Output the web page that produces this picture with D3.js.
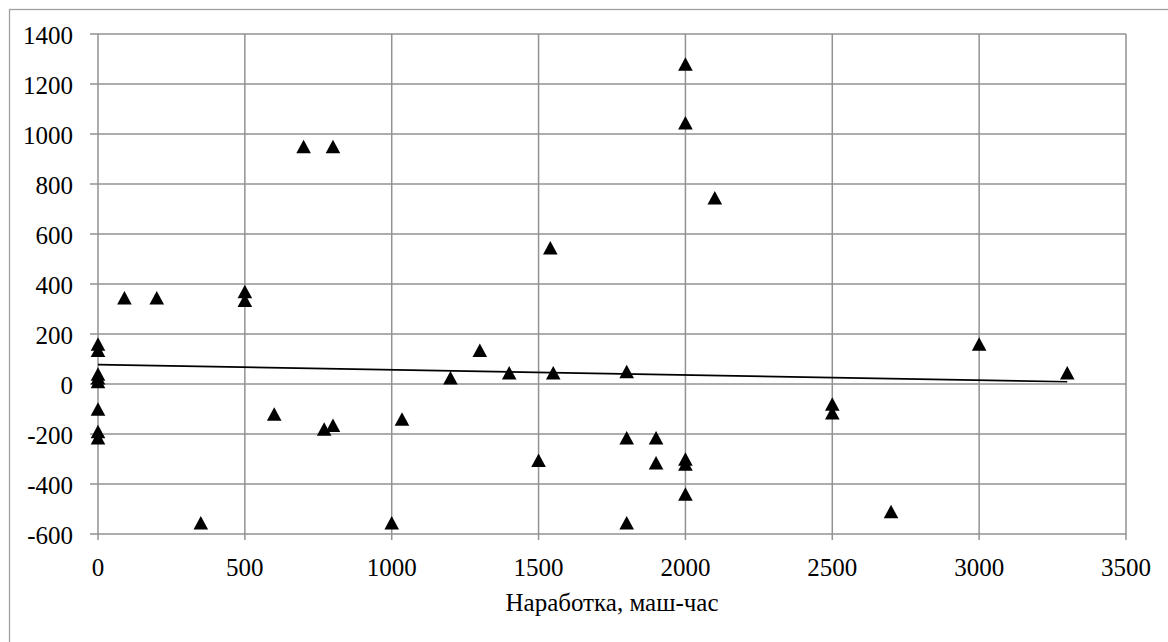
<!DOCTYPE html>
<html>
<head><meta charset="utf-8"><script src="https://cdn.jsdelivr.net/npm/d3@7"></script></head>
<body style="margin:0">
<script>
// размеры
let width = 1168;
let height = 642;
let font_stack = "'Liberation Serif', Tinos, 'Times New Roman', serif";

// данные: наработка (x) и отклонение (y)
let run_hours = [0, 0, 0, 0, 0, 0, 0, 0, 90, 200, 350, 500, 500, 600, 700, 770, 800, 800,
    1000, 1035, 1200, 1300, 1400, 1500, 1540, 1550, 1800, 1800, 1800, 1900, 1900,
    2000, 2000, 2000, 2000, 2000, 2100, 2500, 2500, 2700, 3000, 3300];
let deviation = [160, 135, 40, 25, 10, -100, -190, -215, 345, 345, -555, 370, 335, -120, 950, -180, 950, -165,
    -555, -140, 25, 135, 45, -305, 545, 45, 50, -215, -555, -215, -315,
    1280, 1045, -300, -320, -440, 745, -80, -115, -510, 160, 45];

// подписи осей
let x_ticks = [0, 500, 1000, 1500, 2000, 2500, 3000, 3500];
let y_ticks = [-600, -400, -200, 0, 200, 400, 600, 800, 1000, 1200, 1400];
let x_title = "Наработка, маш-час";

// область построения
let plot_left = 98, plot_right = 1126, plot_top = 34, plot_bottom = 534;
let grid_color = "#929292";

let svg = d3.select("body").append("svg")
    .attr("width", width)
    .attr("height", height)
    .attr("font-family", font_stack);

// рамка диаграммы
svg.append("rect")
    .attr("x", 9.5).attr("y", 9.5)
    .attr("width", width).attr("height", height)
    .style("fill", "none")
    .style("stroke", "#a0a0a0")
    .style("stroke-width", 1.3);

let x = d3.scaleLinear().domain([0, 3500]).range([plot_left, plot_right]);
let y = d3.scaleLinear().domain([-600, 1400]).range([plot_bottom, plot_top]);

// сетка
svg.append("g").selectAll("line").data(y_ticks).enter().append("line")
    .attr("x1", plot_left - 8).attr("x2", plot_right)
    .attr("y1", d => y(d)).attr("y2", d => y(d))
    .style("stroke", grid_color).style("stroke-width", 1.5);

svg.append("g").selectAll("line").data(x_ticks).enter().append("line")
    .attr("x1", d => x(d)).attr("x2", d => x(d))
    .attr("y1", plot_top).attr("y2", plot_bottom + 6)
    .style("stroke", grid_color).style("stroke-width", 1.5);

// подписи Y
svg.append("g").selectAll("text").data(y_ticks).enter().append("text")
    .attr("x", 73)
    .attr("y", d => y(d) + 10)
    .attr("text-anchor", "end")
    .attr("font-family", font_stack)
    .style("font-family", font_stack, "important")
    .style("font-size", "25px")
    .text(d => String(d));

// подписи X
svg.append("g").selectAll("text").data(x_ticks).enter().append("text")
    .attr("x", d => x(d))
    .attr("y", 576)
    .attr("text-anchor", "middle")
    .attr("font-family", font_stack)
    .style("font-family", font_stack, "important")
    .style("font-size", "25px")
    .text(d => String(d));

svg.append("text")
    .attr("x", (plot_left + plot_right) / 2)
    .attr("y", 611)
    .attr("text-anchor", "middle")
    .attr("font-family", font_stack)
    .style("font-family", font_stack, "important")
    .style("font-size", "25px")
    .text(x_title);

// линейный тренд (МНК)
let n = run_hours.length;
let mx = d3.mean(run_hours), my = d3.mean(deviation);
let sxy = 0, sxx = 0;
for (let i = 0; i < n; i++) {
    sxy += (run_hours[i] - mx) * (deviation[i] - my);
    sxx += (run_hours[i] - mx) * (run_hours[i] - mx);
}
let slope = sxy / sxx;
let icpt = my - slope * mx;
let x_min = d3.min(run_hours), x_max = d3.max(run_hours);

svg.append("line")
    .attr("x1", x(x_min)).attr("y1", y(icpt + slope * x_min))
    .attr("x2", x(x_max)).attr("y2", y(icpt + slope * x_max))
    .style("stroke", "#000")
    .style("stroke-width", 1.6);

// точки-треугольники
let tri = "M0,-6.7L7.3,6.7L-7.3,6.7Z";
svg.append("g").selectAll("path").data(run_hours).enter().append("path")
    .attr("d", tri)
    .attr("transform", (d, i) => "translate(" + x(d) + "," + y(deviation[i]) + ")")
    .style("fill", "#000");
</script>
</body>
</html>
